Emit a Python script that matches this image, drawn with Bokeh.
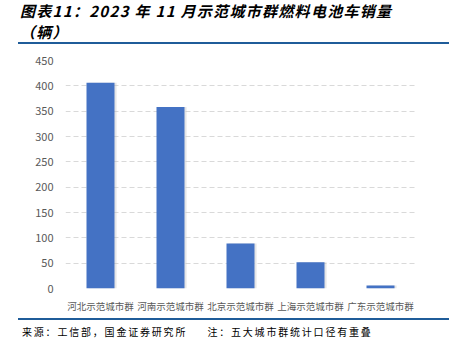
from bokeh.plotting import figure
from bokeh.models import ColumnDataSource, Range1d, FactorRange, Div
from bokeh.layouts import column
from bokeh.transform import dodge
from bokeh.embed import file_html
from bokeh.resources import INLINE

categories = ["河北示范城市群", "河南示范城市群", "北京示范城市群", "上海示范城市群", "广东示范城市群"]
sales = [406, 358, 89, 52, 6]
y_ticks = [0, 50, 100, 150, 200, 250, 300, 350, 400, 450]
title_line1 = "图表11：2023 年 11 月示范城市群燃料电池车销量"
title_line2 = "（辆）"
footer_text = "来源：工信部，国金证券研究所&nbsp;&nbsp;&nbsp;&nbsp;&nbsp;注：五大城市群统计口径有重叠"

src = ColumnDataSource(data=dict(cat=categories, val=sales))

title = Div(text=title_line1 + "<br>" + title_line2,
            width=431, height=44, margin=(0, 0, 0, 18),
            styles={"font-family": "Noto Sans CJK SC", "font-size": "15px", "font-weight": "bold",
                    "font-style": "italic", "line-height": "21px", "color": "#000",
                    "letter-spacing": "1.3px",
                    "border-bottom": "2px solid #1f5c99", "box-sizing": "border-box",
                    "padding-left": "2px"})

p = figure(width=449, height=272, x_range=FactorRange(*categories), y_range=Range1d(0, 450),
           output_backend="svg", toolbar_location=None, margin=(2, 0, 0, 0),
           min_border_left=65, min_border_right=34, min_border_top=14, min_border_bottom=30)
p.outline_line_color = None
p.background_fill_color = "white"

p.vbar(x=dodge("cat", 0.03, range=p.x_range), top="val", width=0.4, bottom=0,
       source=src, fill_color="#c0c0c0", fill_alpha=0.4, line_color=None)
p.vbar(x="cat", top="val", width=0.4, source=src, fill_color="#4472C4", line_color=None)

p.xgrid.grid_line_color = None
p.ygrid.grid_line_color = "#d9d9d9"
p.ygrid.grid_line_dash = "5 3"
p.yaxis.ticker = y_ticks
for ax in (p.xaxis, p.yaxis):
    ax.axis_line_color = None
    ax.major_tick_line_color = None
    ax.minor_tick_line_color = None
    ax.major_label_text_color = "#595959"
    ax.major_label_text_font = "Noto Sans CJK SC"
p.yaxis.major_label_text_font_size = "11px"
p.xaxis.major_label_text_font_size = "9.5px"
p.xaxis.major_label_standoff = 4
p.yaxis.major_label_standoff = 6

footer = Div(text=footer_text, width=431, height=32, margin=(0, 0, 0, 18),
             styles={"font-family": "Noto Sans CJK SC", "font-size": "10px", "color": "#000",
                     "letter-spacing": "1.8px",
                     "border-top": "2px solid #1f5c99", "box-sizing": "border-box",
                     "padding-top": "5px", "padding-left": "4px", "line-height": "14px"})

layout = column(title, p, footer, spacing=0)
open("out.html", "w").write(file_html(layout, INLINE))
